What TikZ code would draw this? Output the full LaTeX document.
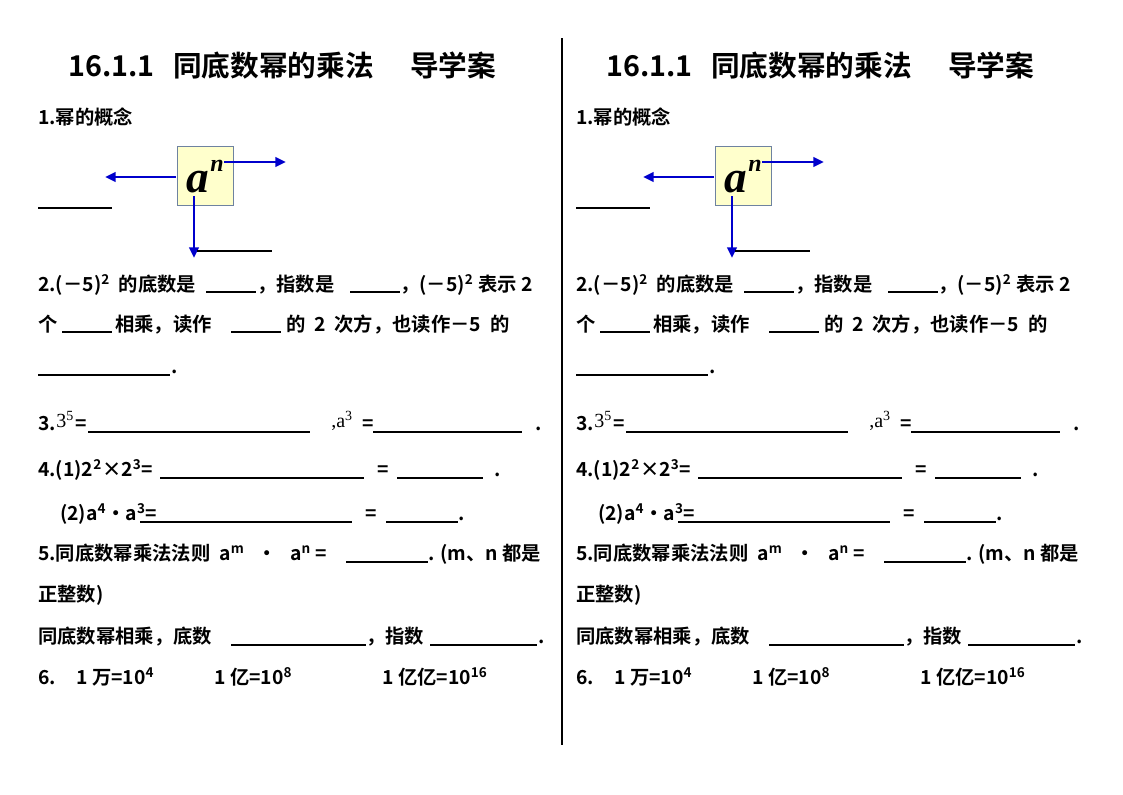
\documentclass[tikz,border=0pt]{standalone}
\usepackage{fontspec}
\setmainfont{Noto Sans CJK SC}[BoldFont=* Bold]
\newfontfamily\serif{Liberation Serif}
\usetikzlibrary{arrows.meta,positioning}

\tikzset{
  txt/.style={anchor=base west, inner sep=0pt, font=\fontsize{14.5}{17}\selectfont\bfseries},
  ttl/.style={anchor=base west, inner sep=0pt, font=\fontsize{21.5}{26}\selectfont\bfseries},
  blank/.style={line width=0.8pt},
  arr/.style={draw={rgb,255:red,0;green,0;blue,204}, line width=2pt, -{Triangle[length=8pt,width=7pt]}},
  powbox/.style={draw={rgb,255:red,110;green,130;blue,160}, fill={rgb,255:red,255;green,255;blue,204}, minimum width=56*0.75pt, minimum height=59*0.75pt, inner sep=0pt}
}

\begin{document}
\begin{tikzpicture}[x=0.75pt, y=-0.75pt]
  \useasboundingbox (0,0) rectangle (1123,794);

  % divider
  \draw[line width=0.8pt] (562,38) -- (562,745);

  \foreach \dx/\p in {0/L,538/R} {
    \begin{scope}[xshift=\dx*0.75pt]
      % title
      \node[ttl] (\p title) at (68,76) {16.1.1};
      \node[ttl] at (173,76) {同底数幂的乘法};
      \node[ttl] at (410,76) {导学案};

      % 1. concept
      \node[txt] (\p q1) at (38,124) {1.幂的概念};
      \node[powbox] (\p box) at (205,175.5) {};
      \node[inner sep=0pt, font=\serif\bfseries\itshape\fontsize{34}{34}\selectfont] (\p a) at (198,182) {a};
      \node[inner sep=0pt, font=\serif\bfseries\itshape\fontsize{18}{18}\selectfont] (\p n) at (217,166) {n};
      \coordinate (\p l0) at (176,177); \coordinate (\p l1) at (105,177);
      \coordinate (\p r0) at (224,162); \coordinate (\p r1) at (286,162);
      \coordinate (\p d0) at (194,196); \coordinate (\p d1) at (194,258);
      \draw[arr] (\p l0) -- (\p l1);
      \draw[arr] (\p r0) -- (\p r1);
      \draw[arr] (\p d0) -- (\p d1);
      \draw[blank] (38,208) -- (112,208);
      \draw[blank] (197,251) -- (272,251);

      % 2.
      \node[txt] at (38,291) {2.(－5)\textsuperscript{2}\ \ 的底数是};
      \draw[blank] (206,292) -- (256,292);
      \node[txt] at (257,291) {，指数是};
      \draw[blank] (350,292) -- (400,292);
      \node[txt] at (400,291) {，(－5)\textsuperscript{2} 表示 2};
      \node[txt] at (38,331) {个};
      \draw[blank] (62,332) -- (112,332);
      \node[txt] at (115,331) {相乘，读作};
      \draw[blank] (231,332) -- (281,332);
      \node[txt] at (286,331) {的\ \ 2\ \ 次方，也读作－5\ \ 的};
      \draw[blank] (38,375) -- (170,375);
      \node[txt] at (171,373) {.};

      % 3.
      \node[txt] at (38,430) {3.};
      \node[inner sep=0pt, anchor=base west, font=\serif\fontsize{15}{17}\selectfont] at (56,427) {3\textsuperscript{5}};
      \node[txt] at (75,430) {=};
      \draw[blank] (88,432) -- (310,432);
      \node[inner sep=0pt, anchor=base west, font=\serif\fontsize{15}{17}\selectfont] at (331,427) {,a\textsuperscript{3}};
      \node[txt] at (362,430) {=};
      \draw[blank] (373,432) -- (522,432);
      \node[txt] at (535,430) {.};

      % 4.
      \node[txt] at (38,476) {4.(1)2\textsuperscript{2}×2\textsuperscript{3}=};
      \draw[blank] (160,478) -- (364,478);
      \node[txt] at (377,476) {=};
      \draw[blank] (397,478) -- (483,478);
      \node[txt] at (494,476) {.};
      \node[txt] at (60,520) {(2)a\textsuperscript{4}•a\textsuperscript{3}=};
      \draw[blank] (140,522) -- (352,522);
      \node[txt] at (365,520) {=};
      \draw[blank] (386,522) -- (458,522);
      \node[txt] at (458,520) {.};

      % 5.
      \node[txt] at (38,560) {5.同底数幂乘法法则\ \ a\textsuperscript{m}\ \ \ •\ \ \ a\textsuperscript{n} =};
      \draw[blank] (346,562) -- (428,562);
      \node[txt] at (428,560) {. (m、n 都是};
      \node[txt] at (38,601) {正整数)};
      \node[txt] at (38,643) {同底数幂相乘，底数};
      \draw[blank] (231,645) -- (366,645);
      \node[txt] at (366,643) {，指数};
      \draw[blank] (430,645) -- (537,645);
      \node[txt] at (538,643) {.};

      % 6.
      \node[txt] at (38,684) {6.};
      \node[txt] at (76,684) {1 万=10\textsuperscript{4}};
      \node[txt] at (214,684) {1 亿=10\textsuperscript{8}};
      \node[txt] at (382,684) {1 亿亿=10\textsuperscript{16}};
    \end{scope}
  }
\end{tikzpicture}
\end{document}
